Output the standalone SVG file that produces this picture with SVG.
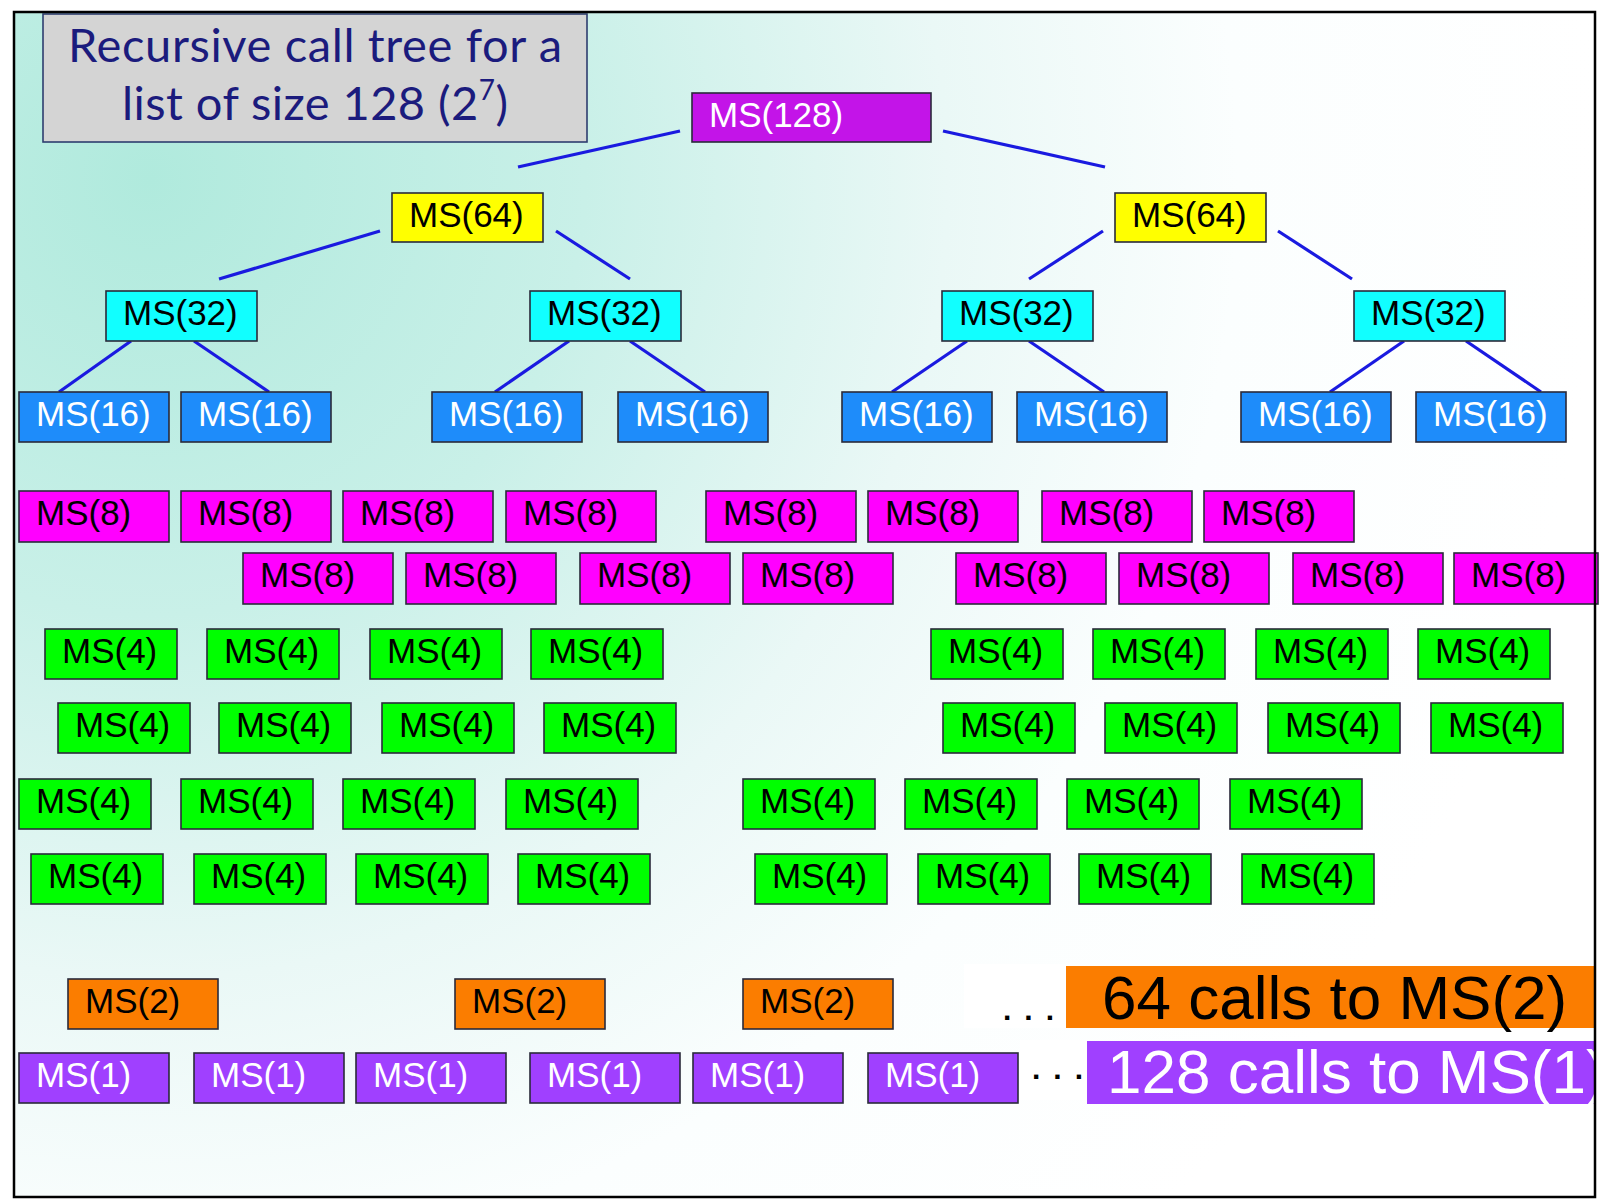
<svg xmlns="http://www.w3.org/2000/svg" width="1612" height="1200" viewBox="0 0 1612 1200">
<defs>
<radialGradient id="bg" gradientUnits="userSpaceOnUse" cx="150" cy="180" r="1450">
<stop offset="0" stop-color="#b0eadd"/>
<stop offset="0.3" stop-color="#c9f0e8"/>
<stop offset="0.55" stop-color="#eaf8f6"/>
<stop offset="0.75" stop-color="#fbfefe"/>
<stop offset="1" stop-color="#ffffff"/>
</radialGradient>
<clipPath id="frame"><rect x="14" y="12" width="1581" height="1185"/></clipPath>
<style>
.n rect{stroke:#2a2a3a;stroke-width:1.6}
.n text{font-family:"Liberation Sans",Arial,sans-serif;font-size:35px}
.c128 rect{fill:#c314e8}.c128 text{fill:#fff}
.c64 rect{fill:#ffff00}.c64 text{fill:#000}
.c32 rect{fill:#11ffff}.c32 text{fill:#000}
.c16 rect{fill:#1e8cfa}.c16 text{fill:#fff}
.c8 rect{fill:#ff00ff}.c8 text{fill:#000}
.c4 rect{fill:#00ff00}.c4 text{fill:#000}
.c2 rect{fill:#fb7d00}.c2 text{fill:#000}
.c1 rect{fill:#a040ff}.c1 text{fill:#fff}
#edges line{stroke:#1a1ae0;stroke-width:3.2;stroke-linecap:butt}
.big{font-family:"Liberation Sans",Arial,sans-serif;font-size:62px}
.dots{font-family:"Liberation Sans",Arial,sans-serif;font-size:30px;font-weight:bold;letter-spacing:13px;fill:#000}
</style>
</defs>
<rect x="0" y="0" width="1612" height="1200" fill="#ffffff"/>
<rect x="14" y="12" width="1581" height="1185" fill="url(#bg)"/>

<g id="title">
<rect x="43" y="14" width="544" height="128" fill="#d4d4d4" stroke="#2e3d6e" stroke-width="1.6"/>
<text x="315" y="62" text-anchor="middle" font-family="Lato,'Open Sans',sans-serif" font-size="47" fill="#1b1b7d" textLength="494">Recursive call tree for a</text>
<text x="315" y="120" text-anchor="middle" font-family="Lato,'Open Sans',sans-serif" font-size="47" fill="#1b1b7d" textLength="386">list of size 128 (2<tspan font-size="28" dy="-20">7</tspan><tspan dy="20">)</tspan></text>
</g>

<g id="edges">
<line x1="680" y1="131" x2="518" y2="167"/>
<line x1="943" y1="131" x2="1105" y2="167"/>
<line x1="380" y1="231" x2="219" y2="279"/>
<line x1="556" y1="231" x2="630" y2="279"/>
<line x1="1103" y1="231" x2="1029" y2="279"/>
<line x1="1278" y1="231" x2="1352" y2="279"/>
<line x1="131" y1="341" x2="59" y2="392"/>
<line x1="194" y1="341" x2="269" y2="392"/>
<line x1="569" y1="341" x2="495" y2="392"/>
<line x1="630" y1="341" x2="705" y2="392"/>
<line x1="967" y1="341" x2="892" y2="392"/>
<line x1="1029" y1="341" x2="1104" y2="392"/>
<line x1="1404" y1="341" x2="1330" y2="392"/>
<line x1="1466" y1="341" x2="1541" y2="392"/>
</g>

<g id="ms128" class="n c128"><rect x="692" y="93" width="239" height="49"/><text x="709" y="127">MS(128)</text></g>

<g id="ms64a" class="n c64"><rect x="392" y="193" width="151" height="49"/><text x="409" y="227">MS(64)</text></g>
<g id="ms64b" class="n c64"><rect x="1115" y="193" width="151" height="49"/><text x="1132" y="227">MS(64)</text></g>

<g id="ms32a" class="n c32"><rect x="106" y="291" width="151" height="50"/><text x="123" y="325">MS(32)</text></g>
<g id="ms32b" class="n c32"><rect x="530" y="291" width="151" height="50"/><text x="547" y="325">MS(32)</text></g>
<g id="ms32c" class="n c32"><rect x="942" y="291" width="151" height="50"/><text x="959" y="325">MS(32)</text></g>
<g id="ms32d" class="n c32"><rect x="1354" y="291" width="151" height="50"/><text x="1371" y="325">MS(32)</text></g>

<g id="ms16a" class="n c16"><rect x="19" y="392" width="150" height="50"/><text x="36" y="426">MS(16)</text></g>
<g id="ms16b" class="n c16"><rect x="181" y="392" width="150" height="50"/><text x="198" y="426">MS(16)</text></g>
<g id="ms16c" class="n c16"><rect x="432" y="392" width="150" height="50"/><text x="449" y="426">MS(16)</text></g>
<g id="ms16d" class="n c16"><rect x="618" y="392" width="150" height="50"/><text x="635" y="426">MS(16)</text></g>
<g id="ms16e" class="n c16"><rect x="842" y="392" width="150" height="50"/><text x="859" y="426">MS(16)</text></g>
<g id="ms16f" class="n c16"><rect x="1017" y="392" width="150" height="50"/><text x="1034" y="426">MS(16)</text></g>
<g id="ms16g" class="n c16"><rect x="1241" y="392" width="150" height="50"/><text x="1258" y="426">MS(16)</text></g>
<g id="ms16h" class="n c16"><rect x="1416" y="392" width="150" height="50"/><text x="1433" y="426">MS(16)</text></g>

<g id="ms8-1" class="n c8"><rect x="19" y="491" width="150" height="51"/><text x="36" y="525">MS(8)</text></g>
<g id="ms8-2" class="n c8"><rect x="181" y="491" width="150" height="51"/><text x="198" y="525">MS(8)</text></g>
<g id="ms8-3" class="n c8"><rect x="343" y="491" width="150" height="51"/><text x="360" y="525">MS(8)</text></g>
<g id="ms8-4" class="n c8"><rect x="506" y="491" width="150" height="51"/><text x="523" y="525">MS(8)</text></g>
<g id="ms8-5" class="n c8"><rect x="706" y="491" width="150" height="51"/><text x="723" y="525">MS(8)</text></g>
<g id="ms8-6" class="n c8"><rect x="868" y="491" width="150" height="51"/><text x="885" y="525">MS(8)</text></g>
<g id="ms8-7" class="n c8"><rect x="1042" y="491" width="150" height="51"/><text x="1059" y="525">MS(8)</text></g>
<g id="ms8-8" class="n c8"><rect x="1204" y="491" width="150" height="51"/><text x="1221" y="525">MS(8)</text></g>
<g id="ms8-9" class="n c8"><rect x="243" y="553" width="150" height="51"/><text x="260" y="587">MS(8)</text></g>
<g id="ms8-10" class="n c8"><rect x="406" y="553" width="150" height="51"/><text x="423" y="587">MS(8)</text></g>
<g id="ms8-11" class="n c8"><rect x="580" y="553" width="150" height="51"/><text x="597" y="587">MS(8)</text></g>
<g id="ms8-12" class="n c8"><rect x="743" y="553" width="150" height="51"/><text x="760" y="587">MS(8)</text></g>
<g id="ms8-13" class="n c8"><rect x="956" y="553" width="150" height="51"/><text x="973" y="587">MS(8)</text></g>
<g id="ms8-14" class="n c8"><rect x="1119" y="553" width="150" height="51"/><text x="1136" y="587">MS(8)</text></g>
<g id="ms8-15" class="n c8"><rect x="1293" y="553" width="150" height="51"/><text x="1310" y="587">MS(8)</text></g>
<g id="ms8-16" class="n c8"><rect x="1454" y="553" width="144" height="51"/><text x="1471" y="587">MS(8)</text></g>

<g id="ms4-a1" class="n c4"><rect x="45" y="629" width="132" height="50"/><text x="62" y="663">MS(4)</text></g>
<g id="ms4-a2" class="n c4"><rect x="207" y="629" width="132" height="50"/><text x="224" y="663">MS(4)</text></g>
<g id="ms4-a3" class="n c4"><rect x="370" y="629" width="132" height="50"/><text x="387" y="663">MS(4)</text></g>
<g id="ms4-a4" class="n c4"><rect x="531" y="629" width="132" height="50"/><text x="548" y="663">MS(4)</text></g>
<g id="ms4-a5" class="n c4"><rect x="931" y="629" width="132" height="50"/><text x="948" y="663">MS(4)</text></g>
<g id="ms4-a6" class="n c4"><rect x="1093" y="629" width="132" height="50"/><text x="1110" y="663">MS(4)</text></g>
<g id="ms4-a7" class="n c4"><rect x="1256" y="629" width="132" height="50"/><text x="1273" y="663">MS(4)</text></g>
<g id="ms4-a8" class="n c4"><rect x="1418" y="629" width="132" height="50"/><text x="1435" y="663">MS(4)</text></g>

<g id="ms4-b1" class="n c4"><rect x="58" y="703" width="132" height="50"/><text x="75" y="737">MS(4)</text></g>
<g id="ms4-b2" class="n c4"><rect x="219" y="703" width="132" height="50"/><text x="236" y="737">MS(4)</text></g>
<g id="ms4-b3" class="n c4"><rect x="382" y="703" width="132" height="50"/><text x="399" y="737">MS(4)</text></g>
<g id="ms4-b4" class="n c4"><rect x="544" y="703" width="132" height="50"/><text x="561" y="737">MS(4)</text></g>
<g id="ms4-b5" class="n c4"><rect x="943" y="703" width="132" height="50"/><text x="960" y="737">MS(4)</text></g>
<g id="ms4-b6" class="n c4"><rect x="1105" y="703" width="132" height="50"/><text x="1122" y="737">MS(4)</text></g>
<g id="ms4-b7" class="n c4"><rect x="1268" y="703" width="132" height="50"/><text x="1285" y="737">MS(4)</text></g>
<g id="ms4-b8" class="n c4"><rect x="1431" y="703" width="132" height="50"/><text x="1448" y="737">MS(4)</text></g>

<g id="ms4-c1" class="n c4"><rect x="19" y="779" width="132" height="50"/><text x="36" y="813">MS(4)</text></g>
<g id="ms4-c2" class="n c4"><rect x="181" y="779" width="132" height="50"/><text x="198" y="813">MS(4)</text></g>
<g id="ms4-c3" class="n c4"><rect x="343" y="779" width="132" height="50"/><text x="360" y="813">MS(4)</text></g>
<g id="ms4-c4" class="n c4"><rect x="506" y="779" width="132" height="50"/><text x="523" y="813">MS(4)</text></g>
<g id="ms4-c5" class="n c4"><rect x="743" y="779" width="132" height="50"/><text x="760" y="813">MS(4)</text></g>
<g id="ms4-c6" class="n c4"><rect x="905" y="779" width="132" height="50"/><text x="922" y="813">MS(4)</text></g>
<g id="ms4-c7" class="n c4"><rect x="1067" y="779" width="132" height="50"/><text x="1084" y="813">MS(4)</text></g>
<g id="ms4-c8" class="n c4"><rect x="1230" y="779" width="132" height="50"/><text x="1247" y="813">MS(4)</text></g>

<g id="ms4-d1" class="n c4"><rect x="31" y="854" width="132" height="50"/><text x="48" y="888">MS(4)</text></g>
<g id="ms4-d2" class="n c4"><rect x="194" y="854" width="132" height="50"/><text x="211" y="888">MS(4)</text></g>
<g id="ms4-d3" class="n c4"><rect x="356" y="854" width="132" height="50"/><text x="373" y="888">MS(4)</text></g>
<g id="ms4-d4" class="n c4"><rect x="518" y="854" width="132" height="50"/><text x="535" y="888">MS(4)</text></g>
<g id="ms4-d5" class="n c4"><rect x="755" y="854" width="132" height="50"/><text x="772" y="888">MS(4)</text></g>
<g id="ms4-d6" class="n c4"><rect x="918" y="854" width="132" height="50"/><text x="935" y="888">MS(4)</text></g>
<g id="ms4-d7" class="n c4"><rect x="1079" y="854" width="132" height="50"/><text x="1096" y="888">MS(4)</text></g>
<g id="ms4-d8" class="n c4"><rect x="1242" y="854" width="132" height="50"/><text x="1259" y="888">MS(4)</text></g>

<g id="ms2a" class="n c2"><rect x="68" y="979" width="150" height="50"/><text x="85" y="1013">MS(2)</text></g>
<g id="ms2b" class="n c2"><rect x="455" y="979" width="150" height="50"/><text x="472" y="1013">MS(2)</text></g>
<g id="ms2c" class="n c2"><rect x="743" y="979" width="150" height="50"/><text x="760" y="1013">MS(2)</text></g>

<g id="ms1a" class="n c1"><rect x="19" y="1053" width="150" height="50"/><text x="36" y="1087">MS(1)</text></g>
<g id="ms1b" class="n c1"><rect x="194" y="1053" width="150" height="50"/><text x="211" y="1087">MS(1)</text></g>
<g id="ms1c" class="n c1"><rect x="356" y="1053" width="150" height="50"/><text x="373" y="1087">MS(1)</text></g>
<g id="ms1d" class="n c1"><rect x="530" y="1053" width="150" height="50"/><text x="547" y="1087">MS(1)</text></g>
<g id="ms1e" class="n c1"><rect x="693" y="1053" width="150" height="50"/><text x="710" y="1087">MS(1)</text></g>
<g id="ms1f" class="n c1"><rect x="868" y="1053" width="150" height="50"/><text x="885" y="1087">MS(1)</text></g>

<g id="summary" clip-path="url(#frame)">
<rect x="964" y="964" width="102" height="64" fill="#ffffff"/>
<rect x="1020" y="1040" width="67" height="60" fill="#ffffff"/>
<text class="dots" x="1003" y="1020">...</text>
<text class="dots" x="1032" y="1079">...</text>
<rect x="1066" y="966" width="540" height="62" fill="#fb7d00"/>
<text class="big" x="1102" y="1019" fill="#000">64 calls to MS(2)</text>
<rect x="1087" y="1041" width="520" height="63" fill="#a040ff"/>
<text class="big" x="1107" y="1093" fill="#fff">128 calls to MS(1)</text>
</g>

<rect x="14" y="12" width="1581" height="1185" fill="none" stroke="#000" stroke-width="2.5"/>
</svg>
